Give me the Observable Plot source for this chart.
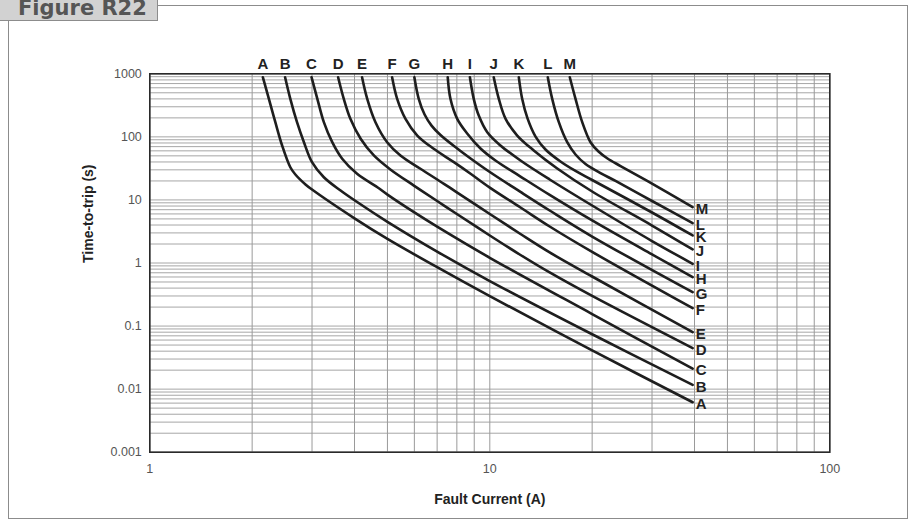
<!DOCTYPE html>
<html>
<head>
<meta charset="utf-8">
<script src="https://cdn.jsdelivr.net/npm/d3@7"></script>
<script src="https://cdn.jsdelivr.net/npm/@observablehq/plot@0.6"></script>
<style>
  html, body { margin: 0; padding: 0; background: #fff; }
  #wrap { position: relative; width: 917px; height: 529px; overflow: hidden; }
  #border { position: absolute; left: 8px; top: 5px; width: 900px; height: 514px; border: 1px solid #8c8c8c; box-sizing: border-box; }
  #tag { position: absolute; left: -2px; top: -3px; width: 160px; height: 24px; background: #d2d2d2; border: 1px solid #8c8c8c; box-sizing: border-box; overflow: hidden; }
  #tag span { position: absolute; left: 19px; top: -2px; font-family: "DejaVu Sans", sans-serif; font-weight: bold; font-size: 21px; color: #555; line-height: 24px; white-space: nowrap; }
  #chart { position: absolute; left: 0; top: 0; }
</style>
</head>
<body>
<div id="wrap">
  <div id="border"></div>
  <div id="tag"><span>Figure R22</span></div>
  <div id="chart"></div>
</div>
<script>
// ---- data: [current (A), time-to-trip (s)] ----
const names = ["A","B","C","D","E","F","G","H","I","J","K","L","M"];
const curveA = [[2.15,883],[2.24,401],[2.34,171],[2.45,73],[2.59,33],[2.68,25.3],[2.87,17.6],[3,14.6],[4,5.1],[5,2.41],[7,0.858],[10,0.298],[20,0.0412],[39.5,0.0062]];
const curveB = [[2.50,883],[2.59,401],[2.71,171],[2.84,82.3],[3.0,39.7],[3.25,22.9],[3.64,14.1],[4,9.87],[5,4.5],[7,1.517],[10,0.517],[20,0.0741],[39.5,0.0117]];
const curveC = [[2.99,883],[3.11,401],[3.25,171],[3.44,82.3],[3.68,44.9],[4.07,26.0],[4.67,15.9],[5,12.15],[6,6.34],[7,3.77],[10,1.21],[20,0.155],[39.5,0.0211]];
const curveD = [[3.58,883],[3.72,401],[3.89,193],[4.17,93.2],[4.56,50.7],[5.1,30.4],[5.98,16.9],[7,9.62],[8,5.99],[10,2.73],[12.31,1.34],[15,0.707],[20,0.3],[39.5,0.0446]];
const curveE = [[4.21,883],[4.36,401],[4.61,171],[4.99,82.3],[5.46,50.7],[6.25,31.2],[7.33,18.0],[8,13.2],[10,5.99],[12.31,2.88],[15,1.47],[20,0.611],[39.5,0.080]];
const curveF = [[5.16,883],[5.34,401],[5.65,193],[6.12,105],[6.84,64.7],[7.84,39.7],[8.78,26.0],[10,15.7],[12.31,7.59],[15,3.79],[20,1.5],[39.5,0.192]];
const curveG = [[6.0,883],[6.18,401],[6.43,226],[6.74,151],[7.16,107],[8.02,65.4],[8.78,45.4],[10,27.7],[12.31,13.4],[15,6.8],[20,2.63],[39.5,0.344]];
const curveH = [[7.52,883],[7.66,401],[8.02,193],[8.58,113],[9.39,65.4],[10.39,42.2],[12.31,23.5],[15,12.0],[20,4.72],[30,1.365],[39.5,0.596]];
const curveI = [[8.74,883],[8.97,401],[9.28,218],[9.83,118.6],[10.75,73],[12.31,42.2],[15,21.1],[20,8.16],[30,2.23],[39.5,0.972]];
const curveJ = [[10.27,883],[10.63,401],[11.13,193],[12.04,105],[13.47,60.8],[15.79,31.5],[20,13.6],[30,3.93],[39.5,1.64]];
const curveK = [[12.17,883],[12.45,401],[12.91,196],[13.63,101],[14.58,63.1],[16.14,40.7],[17.87,28.8],[20,20.7],[30,6.32],[39.5,2.73]];
const curveL = [[14.81,883],[15.26,401],[15.96,171],[16.89,82.3],[17.87,52.5],[19.12,37.1],[21.16,26.7],[23.43,20.0],[30,9.62],[39.5,4.28]];
const curveM = [[17.19,883],[17.87,401],[18.7,171],[19.78,82.3],[20.88,58.6],[22.19,45.4],[24.24,34.5],[29.04,20.0],[39.5,7.67]];
const curves = [curveA,curveB,curveC,curveD,curveE,curveF,curveG,curveH,curveI,curveJ,curveK,curveL,curveM];

const xTicks = [1, 10, 100];
const yTicks = [0.001, 0.01, 0.1, 1, 10, 100, 1000];
const xTitle = "Fault Current (A)";
const yTitle = "Time-to-trip (s)";

// ---- derived tables ----
const rows = curves.flatMap((pts, i) => pts.map(([I, t]) => ({name: names[i], I, t})));
const starts = curves.map((pts, i) => ({name: names[i], I: pts[0][0], t: pts[0][1]}));
const ends = curves.map((pts, i) => ({name: names[i], I: pts[pts.length-1][0], t: pts[pts.length-1][1]}));
const minor = (ticks) => ticks.slice(0, -1).flatMap(d => [1,2,3,4,5,6,7,8,9].map(k => k * d)).concat([ticks[ticks.length-1]]);
const xGrid = minor(xTicks);
const yGrid = minor(yTicks);

const font = "'Liberation Sans', Arial, Helvetica, sans-serif";

const chart = Plot.plot({
  width: 917,
  height: 529,
  marginLeft: 149.3,
  marginRight: 87.7,
  marginTop: 73.3,
  marginBottom: 77.3,
  style: {fontFamily: font, background: "transparent", overflow: "visible"},
  x: {type: "log", domain: [1, 100]},
  y: {type: "log", domain: [0.001, 1000]},
  marks: [
    Plot.gridY(yGrid, {stroke: "#a6a6a6", strokeOpacity: 1, strokeWidth: 1}),
    Plot.gridX(xGrid, {stroke: "#9a9a9a", strokeOpacity: 1, strokeWidth: 1}),
    Plot.frame({stroke: "#2a2a2a", strokeWidth: 1.6}),
    Plot.axisX(xTicks, {tickSize: 0, tickPadding: 12, fontSize: 12.5, fill: "#555", tickFormat: d => String(d), label: null}),
    Plot.axisY(yTicks, {tickSize: 0, tickPadding: 8, fontSize: 12.5, fill: "#555", tickFormat: d => String(d), label: null}),
    Plot.text([xTitle], {frameAnchor: "bottom", dy: 47, fontSize: 14, fontWeight: "bold", fill: "#222", lineAnchor: "middle"}),
    Plot.text([yTitle], {frameAnchor: "left", dx: -61, rotate: -90, fontSize: 14, fontWeight: "bold", fill: "#222", lineAnchor: "middle"}),
    Plot.line(rows, {x: "I", y: "t", z: "name", stroke: "#1e1e1e", strokeWidth: 2.6, curve: "catmull-rom"}),
    Plot.text(starts, {x: "I", y: () => 1000, text: "name", dy: -4.5, lineAnchor: "bottom", fontSize: 15, fontWeight: "bold", fill: "#222"}),
    Plot.text(ends, {x: "I", y: "t", text: "name", dx: 3, dy: 2, textAnchor: "start", lineAnchor: "middle", fontSize: 15, fontWeight: "bold", fill: "#222"})
  ]
});
document.getElementById("chart").appendChild(chart);
</script>
</body>
</html>
